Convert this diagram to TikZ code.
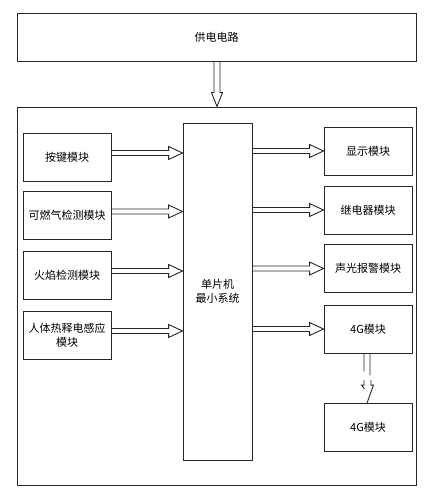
\documentclass[tikz,border=0pt]{standalone}
\usepackage{fontspec}
\setmainfont{Noto Sans CJK SC}
\usetikzlibrary{calc}
\tikzset{
  box/.style={draw=black!85, line width=0.9pt, fill=white, minimum width=88pt, minimum height=48pt, inner sep=1pt, align=center, font=\fontsize{11pt}{14pt}\selectfont},
  harrow/.style={draw=black!85, line width=0.9pt, line join=miter},
}
% horizontal hollow arrow: #1 start point, #2 end point (x only), #3 y reference, #4 y offset
\newcommand\hollowH[4]{%
  \draw[harrow] let \p1=#1, \p2=#2, \p3=#3 in
    (\x1,\y3+#4+2.5pt) -- (\x2-14pt,\y3+#4+2.5pt) -- (\x2-14pt,\y3+#4+6.5pt) -- (\x2,\y3+#4)
    -- (\x2-14pt,\y3+#4-6.5pt) -- (\x2-14pt,\y3+#4-2.5pt) -- (\x1,\y3+#4-2.5pt);}
\begin{document}
\begin{tikzpicture}[x=1pt,y=-1pt]
\useasboundingbox (0,0) rectangle (436,500);
\fill[white] (0,0) rectangle (436,500);
% top power box
\node[box, minimum width=399pt] (pwr) at (216.5,37) {供电电路};
% outer box
\node[draw=black!85, line width=0.9pt, minimum width=399pt, minimum height=378pt, inner sep=0pt] (outer) at (216.5,296) {};
% MCU
\node[box, minimum width=69pt, minimum height=337pt] (mcu) at (217.5,291.5) {单片机\\最小系统};
% left input boxes
\node[box] (k1) at (67,157) {按键模块};
\node[box] (k2) at (67,215.5) {可燃气检测模块};
\node[box] (k3) at (67,275) {火焰检测模块};
\node[box] (k4) at (67,335) {人体热释电感应\\模块};
% right output boxes
\node[box] (d1) at (368,151) {显示模块};
\node[box] (d2) at (368,210) {继电器模块};
\node[box] (d3) at (368,268.5) {声光报警模块};
\node[box] (d4) at (368,329) {4G模块};
\node[box] (d5) at (368,427.5) {4G模块};
% power arrow
\draw[harrow] let \p1=(pwr.south), \p2=(outer.north) in
  (217pt-3pt,\y1) -- (217pt-3pt,\y2+14pt) -- (217pt-5.5pt,\y2+14pt) -- (217pt,\y2)
  -- (217pt+5.5pt,\y2+14pt) -- (217pt+3pt,\y2+14pt) -- (217pt+3pt,\y1);
% input arrows
\hollowH{(k1.east)}{(mcu.west)}{(k1.center)}{4pt}
\hollowH{(k2.east)}{(mcu.west)}{(k2.center)}{4pt}
\hollowH{(k3.east)}{(mcu.west)}{(k3.center)}{4pt}
\hollowH{(k4.east)}{(mcu.west)}{(k4.center)}{4pt}
% output arrows
\hollowH{(mcu.east)}{(d1.west)}{(d1.center)}{0pt}
\hollowH{(mcu.east)}{(d2.west)}{(d2.center)}{0pt}
\hollowH{(mcu.east)}{(d3.west)}{(d3.center)}{0pt}
\hollowH{(mcu.east)}{(d4.west)}{(d4.center)}{0pt}
% wireless 4G arrow (broken hollow arrow)
\draw[harrow] let \p1=(d4.south), \p2=(d5.north) in
  (\x1-4pt,\y1) -- (\x1-4pt,\y1-18pt)
  (\x1+2pt,\y1) -- (\x1+2pt,\y1-22pt)
  (\x1-4pt,\y2+23pt) -- (\x1-4pt,\y2+18pt) -- (\x1-6.5pt,\y2+18pt) -- (\x1-3.5pt,\y2+14pt)
  (\x1+3pt,\y2+23pt) -- (\x1+3pt,\y2+18pt) -- (\x1+5.5pt,\y2+18pt) -- (\x1-1pt,\y2);
\end{tikzpicture}
\end{document}
